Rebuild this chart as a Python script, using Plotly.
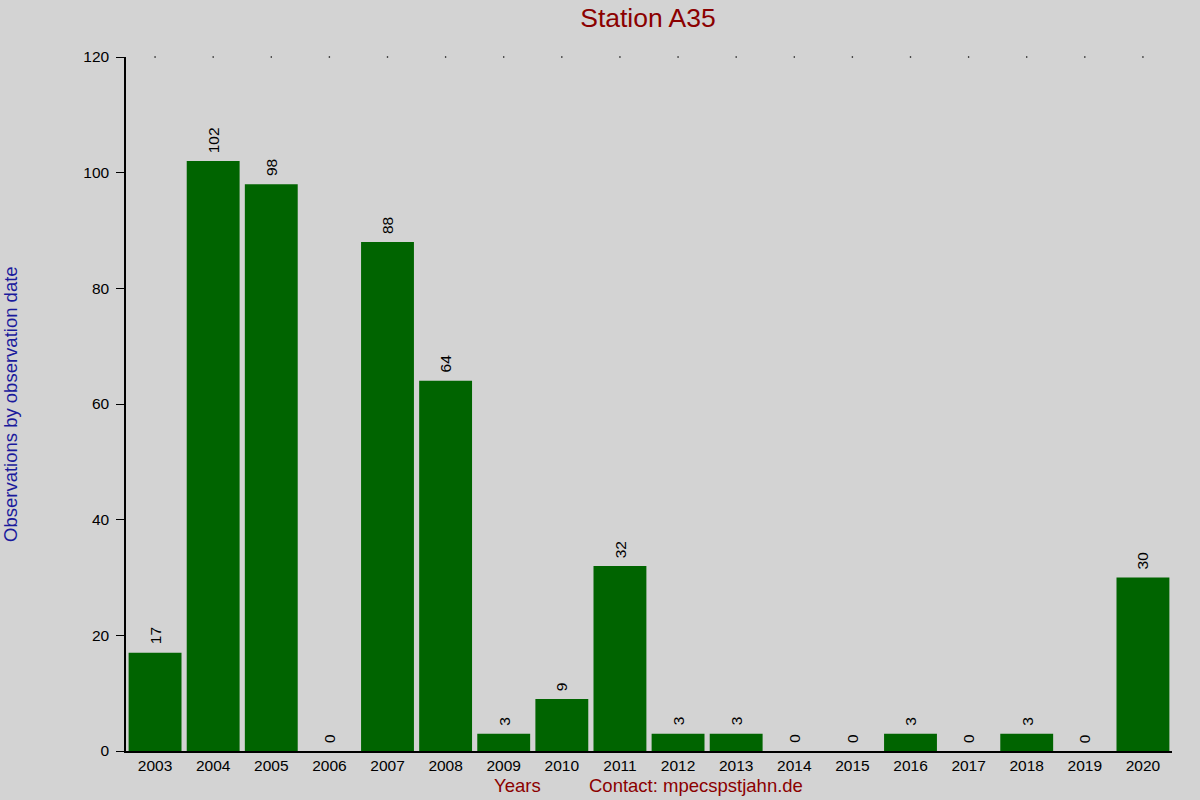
import plotly.graph_objects as go

# data
years = [str(y) for y in range(2003, 2021)]
counts = [17, 102, 98, 0, 88, 64, 3, 9, 32, 3, 3, 0, 0, 3, 0, 3, 0, 30]
y_ticks = [0, 20, 40, 60, 80, 100, 120]
y_max = 120

font_main = "Liberation Sans, Arial, sans-serif"

fig = go.Figure()
fig.add_trace(go.Bar(x=years,
                     y=counts,
                     marker=dict(color='#006400', line=dict(width=0)),
                     hoverinfo='x+y'))

# little dots along the top edge at each category
fig.add_trace(go.Scatter(x=years,
                         y=[y_max] * len(years),
                         mode='markers',
                         marker=dict(color='black', size=1.6),
                         cliponaxis=False,
                         hoverinfo='skip'))

# value labels above the bars, rotated (x = category index)
labels = []
for i, c in enumerate(counts):
    labels.append(dict(text=str(c), x=i, y=c, xref='x', yref='y',
                       textangle=-90, xanchor='center', yanchor='bottom',
                       yshift=6, showarrow=False,
                       font=dict(color='black', size=15.5)))

labels += [
    dict(text='Observations by observation date', xref='paper', yref='paper',
         x=-0.1109, y=0.5, textangle=-90, xanchor='center', yanchor='middle',
         showarrow=False, font=dict(color='#1a1a9c', size=18.5)),
    dict(text='Years', xref='paper', yref='paper', x=0.374, y=-0.0504,
         xanchor='center', yanchor='middle', showarrow=False,
         font=dict(color='#8b0000', size=18.5)),
    dict(text='Contact: mpecspstjahn.de', xref='paper', yref='paper', x=0.5445, y=-0.0504,
         xanchor='center', yanchor='middle', showarrow=False,
         font=dict(color='#8b0000', size=18.5)),
]

fig.update_layout(
    width=1200, height=800,
    paper_bgcolor='#d3d3d3',
    plot_bgcolor='#d3d3d3',
    showlegend=False,
    bargap=0.09,
    margin=dict(l=126, r=28, t=57, b=49),
    font=dict(family=font_main, size=15.5, color='black'),
    title=dict(text='Station A35', x=0.54, xanchor='center', y=0.978, yanchor='middle',
               font=dict(color='#8b0000', size=26.5, family=font_main)),
    xaxis=dict(type='category', range=[-0.5, len(years) - 0.5],
               showline=True, linecolor='black', linewidth=1.5,
               ticks='', showgrid=False, zeroline=False, automargin=False,
               tickfont=dict(size=15.5)),
    yaxis=dict(range=[0, y_max], tickvals=y_ticks,
               showline=True, linecolor='black', linewidth=1.5,
               ticks='outside', ticklen=8, tickcolor='black', tickwidth=1,
               ticklabelstandoff=4,
               showgrid=False, zeroline=False, automargin=False,
               tickfont=dict(size=15.5)),
    annotations=labels,
)

fig.write_html("out.html", config={'displayModeBar': False},
               post_script="document.body.style.margin='0';")
